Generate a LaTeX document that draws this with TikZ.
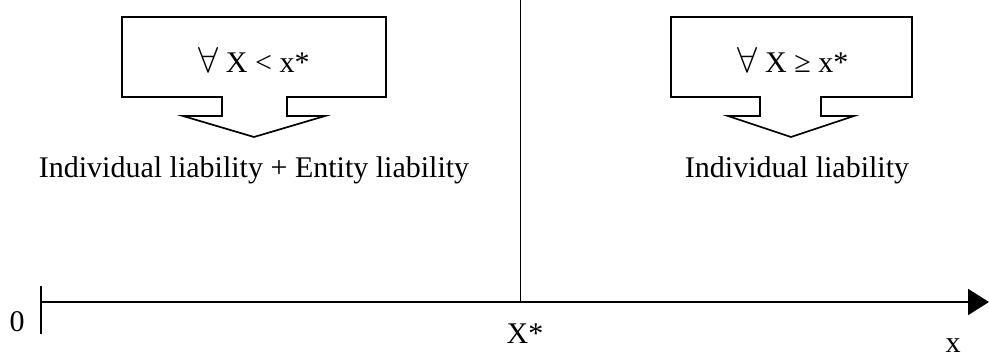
\documentclass[tikz,border=0pt]{standalone}
\usepackage{graphicx}
\usepackage{fontspec}
\setmainfont{Liberation Serif}
\usetikzlibrary{arrows.meta}
\newcommand{\fa}{\scalebox{1.45}{$\forall$}}
\begin{document}
\begin{tikzpicture}[x=1pt,y=-1pt,
  lbl/.style={font=\fontsize{30}{36}\selectfont, inner sep=0pt, anchor=base},
  callout/.style={line width=1.7pt, line join=miter},
  axisline/.style={line width=2pt},
]
\useasboundingbox (0,0) rectangle (989,359);
% left callout
\draw[callout] (222,97) -- (122,97) -- (122,17) -- (386,17) -- (386,97) -- (287,97)
  -- (287,116) -- (325,116) -- (254,137) -- (183,116) -- (222,116) -- cycle;
% right callout
\draw[callout] (760,97) -- (671,97) -- (671,17) -- (912,17) -- (912,97) -- (821,97)
  -- (821,116) -- (854,116) -- (791,137) -- (728,116) -- (760,116) -- cycle;
% texts
\node[lbl] (condL) at (254,72) {\fa{} X < x*};
\node[lbl] (condR) at (793,72) {\fa{} X ≥ x*};
\node[lbl] (resL) at (254,177) {Individual liability + Entity liability};
\node[lbl] (resR) at (797,177) {Individual liability};
\node[lbl] (zero) at (17,331) {0};
\node[lbl] (xstar) at (525,343) {X*};
\node[lbl] (xlab) at (953,352) {x};
% axis
\coordinate (o) at (41,302);
\coordinate (e) at (989,302);
\draw[axisline,-{Triangle[length=21pt,width=26pt]}] (o) -- (e);
\coordinate (t1) at (41,286);
\coordinate (t2) at (41,334);
\draw[line width=1.3pt] (t1) -- (t2);
\coordinate (vt) at (520,0);
\coordinate (vb) at (520,302);
\draw[line width=1pt] (vt) -- (vb);
\end{tikzpicture}
\end{document}
